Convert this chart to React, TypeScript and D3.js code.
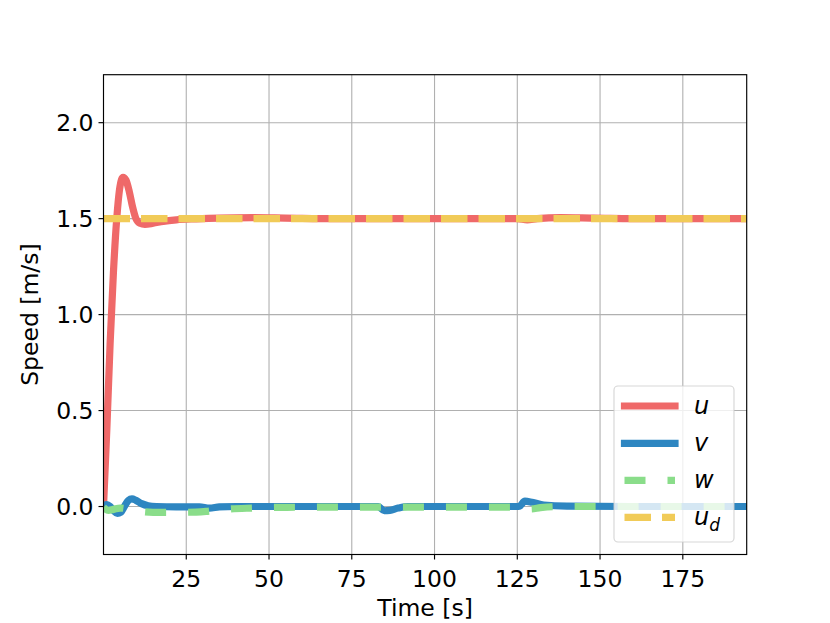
import React from "react";
import * as d3 from "d3";

const W = 830;
const H = 623;
const margin = { left: 103.5, right: 83.3, top: 74.7, bottom: 68.5 };

const xDomain: [number, number] = [0, 194.3];
const yDomain: [number, number] = [-0.25, 2.25];
const xTicks = [25, 50, 75, 100, 125, 150, 175];
const yTicks = [0.0, 0.5, 1.0, 1.5, 2.0];

// [time, value]
const uPoints: [number, number][] = [
  [0, 0], [1, 0.4], [2, 0.85], [3, 1.22], [4, 1.5], [5, 1.67], [5.9, 1.715],
  [6.8, 1.70], [7.8, 1.64], [8.8, 1.56], [9.8, 1.50], [11, 1.476], [12.5, 1.47],
  [15, 1.476], [18, 1.486], [22, 1.494], [28, 1.499], [35, 1.503], [45, 1.505],
  [55, 1.503], [70, 1.500], [100, 1.500], [125, 1.500], [128, 1.494], [131, 1.500],
  [138, 1.505], [148, 1.503], [165, 1.500], [194.3, 1.5],
];
const vPoints: [number, number][] = [
  [0, 0], [1, 0.01], [2, 0.0], [3, -0.02], [4.2, -0.036], [5.2, -0.03], [6.3, 0.0],
  [7.5, 0.032], [8.6, 0.04], [9.8, 0.032], [11.5, 0.015], [13.5, 0.004], [16, 0.0],
  [22, -0.002], [29, -0.002], [32, -0.008], [35, -0.002], [40, 0.0], [83, 0.0],
  [84.8, -0.022], [86.5, -0.02], [89, -0.008], [92, 0.0], [125.5, 0.0], [127.3, 0.028],
  [129.5, 0.022], [133, 0.008], [140, 0.002], [160, 0.0], [194.3, 0.0],
];
const wPoints: [number, number][] = [
  [0, -0.005], [1.5, -0.02], [3, -0.015], [5, -0.008], [8, -0.015], [11, -0.025],
  [15, -0.03], [25, -0.03], [31, -0.025], [37, -0.014], [45, -0.008], [55, -0.004],
  [80, -0.003], [127, -0.003], [129, -0.012], [132, -0.006], [138, 0.0], [194.3, 0.0],
];
const udPoints: [number, number][] = [[0, 1.5], [194.3, 1.5]];

const seriesNames = ["u", "v", "w", "ud"];
const seriesColors = ["#EF6969", "#2E86C1", "#8ADD8A", "#F1CB58"];
const seriesDash = ["", "", "21,22", "26.5,11"];

const FONT = "DejaVu Sans, sans-serif";
const FS = 23.5;

export default function App() {
  const x = d3.scaleLinear().domain(xDomain).range([margin.left, W - margin.right]);
  const y = d3.scaleLinear().domain(yDomain).range([H - margin.bottom, margin.top]);
  const line = d3
    .line<[number, number]>()
    .x((d) => x(d[0]))
    .y((d) => y(d[1]))
    .curve(d3.curveMonotoneX);
  const data = [uPoints, vPoints, wPoints, udPoints];
  const x0 = margin.left;
  const x1 = W - margin.right;
  const y0 = margin.top;
  const y1 = H - margin.bottom;

  const legX = 614, legY = 386, legW = 120, legH = 156;
  const rowY = [406, 443.3, 480.3, 517.3];

  return (
    <svg width={W} height={H} style={{ display: "block", position: "absolute", left: 0, top: 0 }}>
      <rect x={0} y={0} width={W} height={H} fill="#fff" />
      <defs>
        <clipPath id="plotclip">
          <rect x={x0} y={y0} width={x1 - x0} height={y1 - y0} />
        </clipPath>
      </defs>
      {/* grid */}
      {xTicks.map((t) => (
        <line key={"gx" + t} x1={x(t)} x2={x(t)} y1={y0} y2={y1} stroke="#b0b0b0" strokeWidth={1.1} />
      ))}
      {yTicks.map((t) => (
        <line key={"gy" + t} x1={x0} x2={x1} y1={y(t)} y2={y(t)} stroke="#b0b0b0" strokeWidth={1.1} />
      ))}
      <g clipPath="url(#plotclip)">
        {data.map((d, i) => (
          <path
            key={seriesNames[i]}
            d={line(d) || ""}
            fill="none"
            stroke={seriesColors[i]}
            strokeWidth={7.2}
            strokeDasharray={seriesDash[i] || undefined}
            strokeLinecap={seriesDash[i] ? "butt" : "square"}
            strokeLinejoin="round"
          />
        ))}
      </g>
      {/* spines */}
      <rect x={x0} y={y0} width={x1 - x0} height={y1 - y0} fill="none" stroke="#000" strokeWidth={1.15} />
      {/* x ticks */}
      {xTicks.map((t) => (
        <g key={"xt" + t}>
          <line x1={x(t)} x2={x(t)} y1={y1} y2={y1 + 5} stroke="#000" strokeWidth={1.15} />
          <text x={x(t)} y={y1 + 32} textAnchor="middle" fontFamily={FONT} fontSize={FS} fill="#000">
            {t}
          </text>
        </g>
      ))}
      {yTicks.map((t) => (
        <g key={"yt" + t}>
          <line x1={x0 - 5} x2={x0} y1={y(t)} y2={y(t)} stroke="#000" strokeWidth={1.15} />
          <text x={x0 - 10} y={y(t) + 8.5} textAnchor="end" fontFamily={FONT} fontSize={FS} fill="#000">
            {t.toFixed(1)}
          </text>
        </g>
      ))}
      <text x={(x0 + x1) / 2} y={616} textAnchor="middle" fontFamily={FONT} fontSize={FS} fill="#000">
        Time [s]
      </text>
      <text
        transform={`translate(38, ${(y0 + y1) / 2}) rotate(-90)`}
        textAnchor="middle"
        fontFamily={FONT}
        fontSize={FS}
        fill="#000"
      >
        Speed [m/s]
      </text>
      {/* legend */}
      <rect x={legX} y={legY} width={legW} height={legH} rx={4} fill="#fff" fillOpacity={0.8} stroke="#cccccc" strokeOpacity={0.8} strokeWidth={1.15} />
      {seriesNames.map((n, i) => (
        <g key={"leg" + n}>
          <line
            x1={624.5}
            x2={675}
            y1={rowY[i]}
            y2={rowY[i]}
            stroke={seriesColors[i]}
            strokeWidth={7.2}
            strokeDasharray={seriesDash[i] || undefined}
            strokeLinecap={seriesDash[i] ? "butt" : "square"}
          />
          <text x={694} y={rowY[i] + 8} fontFamily={FONT} fontStyle="italic" fontSize={24} fill="#000">
            {n === "ud" ? (
              <>
                u
                <tspan fontSize={17} dy={6}>d</tspan>
              </>
            ) : (
              n
            )}
          </text>
        </g>
      ))}
    </svg>
  );
}
